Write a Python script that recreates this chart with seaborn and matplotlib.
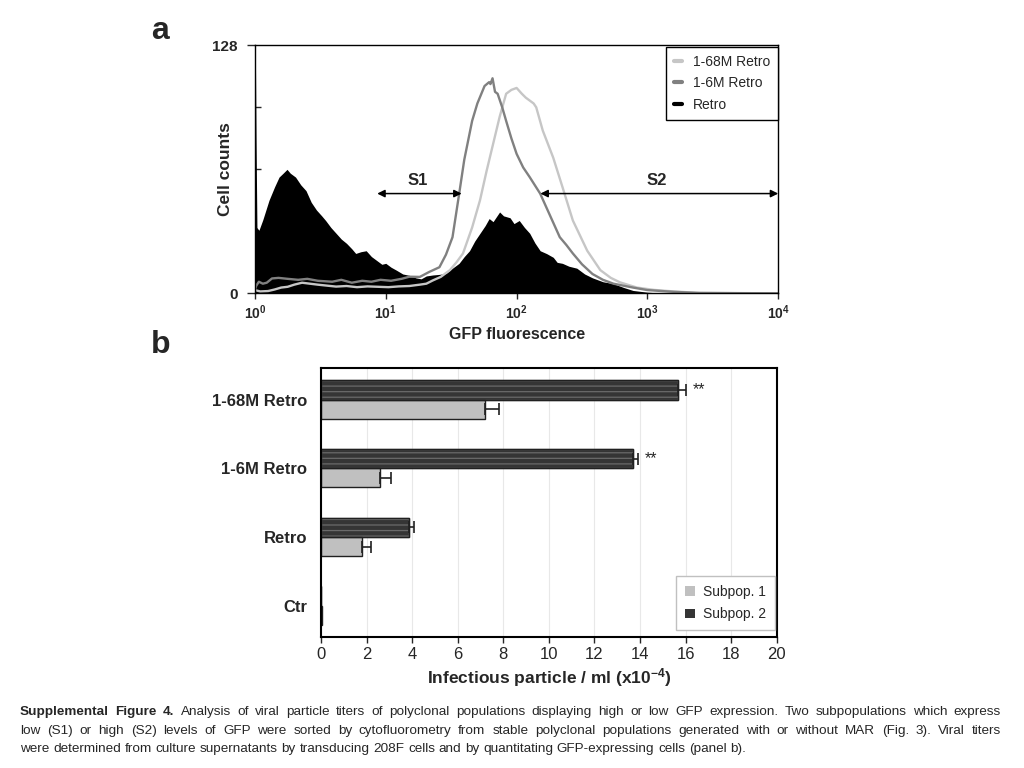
import matplotlib
matplotlib.use("Agg")
import matplotlib.pyplot as plt
import seaborn as sns
import pandas as pd
import numpy as np
from matplotlib.lines import Line2D
from matplotlib.patches import Patch, Rectangle
from matplotlib.ticker import NullLocator, FixedLocator

sns.set_theme(style="white")
plt.rcParams["font.family"] = ["Liberation Sans", "DejaVu Sans"]
plt.rcParams.update({
    "mathtext.fontset": "custom",
    "mathtext.rm": "Liberation Sans",
    "mathtext.bf": "Liberation Sans:bold",
    "mathtext.it": "Liberation Sans:italic",
    "hatch.linewidth": 0.9,
})

# ---- panel a: flow cytometry histograms (x given as log10 of GFP fluorescence)
retro_log = [0.00, 0.004, 0.008, 0.015, 0.03, 0.06, 0.107, 0.15, 0.184, 0.215, 0.245,
             0.27, 0.31, 0.35, 0.39, 0.43, 0.47, 0.51, 0.54, 0.58, 0.62, 0.66, 0.70,
             0.74, 0.77, 0.81, 0.85, 0.89, 0.93, 0.97, 1.00, 1.04, 1.08, 1.13, 1.18,
             1.23, 1.27, 1.31, 1.36, 1.41, 1.46, 1.51, 1.56, 1.60, 1.64, 1.68, 1.72,
             1.76, 1.79, 1.82, 1.85, 1.87, 1.90, 1.95, 1.98, 2.02, 2.06, 2.10, 2.14,
             2.18, 2.23, 2.28, 2.31, 2.35, 2.40, 2.46, 2.52, 2.58, 2.66, 2.74, 2.82,
             2.89, 3.00, 3.10, 4.00]
retro_counts = [127, 116, 80, 34, 32.5, 38, 48, 55, 60, 62, 64,
                62, 60, 56, 53, 47, 43, 40, 37.6, 34, 31, 28, 25.8,
                23, 20.6, 21.5, 22, 19, 17, 15, 15.5, 13.5, 12, 10, 9.3,
                8, 7.5, 9, 9.5, 9.8, 10.3, 13, 15.5, 19, 22, 27, 31,
                35, 38.6, 37, 40, 42, 40, 39, 36, 37.6, 34, 31, 26,
                22, 20.5, 18.6, 16, 15.5, 14, 13, 10, 8, 6, 5, 3,
                1.5, 0.6, 0.2, 0]

m16_log = [0.00, 0.01, 0.03, 0.06, 0.09, 0.13, 0.18, 0.25, 0.33, 0.40, 0.48, 0.59,
           0.66, 0.74, 0.82, 0.89, 0.96, 1.04, 1.12, 1.18, 1.26, 1.33, 1.41, 1.46,
           1.51, 1.56, 1.60, 1.63, 1.66, 1.70, 1.755, 1.79, 1.80, 1.816, 1.835, 1.855,
           1.89, 1.92, 1.96, 2.00, 2.05, 2.10, 2.18, 2.25, 2.33, 2.38, 2.43, 2.50,
           2.58, 2.66, 2.74, 2.89, 3.00, 3.20, 3.40, 4.00]
m16_counts = [2, 4, 6, 5, 5.5, 7.7, 8, 7.5, 7, 7.5, 6.5, 6,
              7, 5.5, 6.5, 6, 7, 6.5, 7.5, 8.6, 8.5, 11, 13.5, 20,
              29, 51, 69, 79, 89, 98, 107, 109, 108, 111, 104, 103,
              96, 89, 80, 72, 65, 60, 51.5, 41, 29, 25, 20.6, 15,
              10, 7, 5, 3, 1.7, 0.8, 0.2, 0]

m168_log = [0.00, 0.04, 0.10, 0.15, 0.20, 0.25, 0.30, 0.36, 0.42, 0.48, 0.55, 0.62,
            0.70, 0.78, 0.86, 0.94, 1.02, 1.10, 1.18, 1.26, 1.31, 1.36, 1.42, 1.49,
            1.54, 1.59, 1.66, 1.72, 1.77, 1.82, 1.87, 1.92, 1.96, 2.00, 2.04, 2.07,
            2.10, 2.13, 2.15, 2.20, 2.28, 2.35, 2.43, 2.54, 2.64, 2.72, 2.79, 2.92,
            3.05, 3.20, 3.38, 4.00]
m168_counts = [1.7, 1, 1.2, 2, 3, 3.4, 4.5, 5.5, 5, 4.5, 4, 3.5,
               3.8, 3.2, 3.6, 3.4, 3.2, 3.6, 3.8, 4.5, 5, 6.7, 8.5, 12,
               16, 20.6, 34, 48, 63, 77, 91, 103, 105, 106, 103, 101,
               99.5, 98, 96, 84, 70, 55, 37.6, 22, 12, 8, 5.7, 3,
               1.8, 1, 0.3, 0]

# ---- panel b: viral titers
lines_b = ["1-68M Retro", "1-6M Retro", "Retro", "Ctr"]
sub1 = [7.2, 2.6, 1.8, 0.05]
sub1_err = [0.6, 0.45, 0.4, 0.0]
sub2 = [15.65, 13.7, 3.85, 0.0]
sub2_err = [0.35, 0.22, 0.22, 0.0]
stars = ["**", "**", "", ""]

fig = plt.figure(figsize=(10.24, 7.68), dpi=100)

# ================= panel a
ax_a = fig.add_axes([0.249, 0.618, 0.511, 0.323])
ax_a.fill_between(10 ** np.array(retro_log), retro_counts, 0, color="black", lw=0)
sns.lineplot(x=10 ** np.array(m168_log), y=m168_counts, color="#c6c6c6", lw=1.7, ax=ax_a)
sns.lineplot(x=10 ** np.array(m16_log), y=m16_counts, color="#808080", lw=1.7, ax=ax_a)
ax_a.set_xscale("log")
ax_a.set_xlim(1, 1e4)
ax_a.set_ylim(0, 128)
ax_a.xaxis.set_minor_locator(NullLocator())
ax_a.set_xticks([1, 10, 100, 1000, 10000])
ax_a.set_xticklabels([r"$\mathbf{10^{%d}}$" % i for i in range(5)], fontsize=10)
ax_a.set_yticks([0, 128])
ax_a.set_yticklabels(["0", "128"], fontsize=11, fontweight="bold")
ax_a.yaxis.set_minor_locator(FixedLocator([32, 64, 96]))
ax_a.tick_params(axis="x", direction="out", length=4, width=1, pad=3, bottom=True)
ax_a.tick_params(axis="y", which="major", direction="out", length=6, width=1, pad=6.5, left=True)
ax_a.tick_params(axis="y", which="minor", direction="in", length=4, width=1, left=True)
for s in ax_a.spines.values():
    s.set_color("black")
    s.set_linewidth(1.0)
ax_a.set_xlabel("GFP fluorescence", fontsize=11.5, fontweight="bold", labelpad=4)
ax_a.set_ylabel("Cell counts", fontsize=12.5, fontweight="bold")
ax_a.yaxis.set_label_coords(-0.042, 0.5)

arrow = dict(arrowstyle="<|-|>", color="black", lw=1.1, mutation_scale=11, shrinkA=0, shrinkB=0)
ax_a.annotate("", xy=(38, 51.5), xytext=(8.6, 51.5), arrowprops=arrow)
ax_a.annotate("", xy=(1e4, 51.5), xytext=(152, 51.5), arrowprops=arrow)
ax_a.text(17.5, 58.5, "S1", fontsize=12, fontweight="bold", ha="center", va="center")
ax_a.text(1180, 58.5, "S2", fontsize=12, fontweight="bold", ha="center", va="center")

leg_a = [Line2D([0], [0], color="#c6c6c6", lw=3),
         Line2D([0], [0], color="#808080", lw=3),
         Line2D([0], [0], color="black", lw=3)]
la = ax_a.legend(leg_a, ["1-68M Retro", "1-6M Retro", "Retro"], loc="upper right",
                 fontsize=10, handlelength=0.6, handletextpad=0.8, borderaxespad=0,
                 fancybox=False, framealpha=1, edgecolor="black", labelspacing=0.55,
                 borderpad=0.55, bbox_to_anchor=(1.0, 0.993))
la.get_frame().set_linewidth(1.0)

# ================= panel b
ax_b = fig.add_axes([0.3135, 0.1706, 0.445, 0.350])
df = pd.DataFrame({
    "line": lines_b * 2,
    "subpop": ["Subpop. 2"] * len(lines_b) + ["Subpop. 1"] * len(lines_b),
    "titer": sub2 + sub1,
})
pal = {"Subpop. 2": "#353535", "Subpop. 1": "#c0c0c0"}
ax_b.grid(axis="x", color="#e8e8e8", lw=0.8)
ax_b.set_axisbelow(True)
sns.barplot(data=df, x="titer", y="line", hue="subpop", hue_order=["Subpop. 2", "Subpop. 1"],
            order=lines_b, palette=pal, orient="h", width=0.56, edgecolor="#202020",
            linewidth=1.0, errorbar=None, legend=False, ax=ax_b)

# striped look of the dark bars, keep a dark outline on top
for bar in ax_b.containers[0]:
    bar.set_hatch("---")
    bar.set_edgecolor("#6a6a6a")
    ax_b.add_patch(Rectangle(bar.get_xy(), bar.get_width(), bar.get_height(),
                             fill=False, edgecolor="#202020", lw=1.0))

errs = {"Subpop. 2": sub2_err, "Subpop. 1": sub1_err}
for cont, name in zip(ax_b.containers, ["Subpop. 2", "Subpop. 1"]):
    for i, bar in enumerate(cont):
        e = errs[name][i]
        yc = bar.get_y() + bar.get_height() / 2
        w = bar.get_width()
        if e > 0:
            ax_b.errorbar(w, yc, xerr=[[0], [e]], fmt="none", ecolor="#202020",
                          elinewidth=1.2, capsize=4, capthick=1.2)
        if name == "Subpop. 2" and stars[i]:
            ax_b.text(w + e + 0.3, yc, stars[i], fontsize=11.5, ha="left", va="center")

ax_b.set_xlim(0, 20)
ax_b.set_xticks(range(0, 21, 2))
ax_b.tick_params(axis="x", direction="out", length=4, width=1, pad=3, bottom=True, labelsize=12)
ax_b.tick_params(axis="y", length=0, pad=10)
for lab in ax_b.get_yticklabels():
    lab.set_fontweight("bold")
    lab.set_fontsize(12)
for s in ax_b.spines.values():
    s.set_color("black")
    s.set_linewidth(1.5)
ax_b.set_ylabel("")
ax_b.set_xlabel(r"Infectious particle / ml (x10$^{\mathbf{-4}}$)", fontsize=12.5,
                fontweight="bold", labelpad=3)

leg_b = [Patch(facecolor="#c0c0c0", edgecolor="none"),
         Patch(facecolor="#353535", edgecolor="none")]
lb = ax_b.legend(leg_b, ["Subpop. 1", "Subpop. 2"], loc="lower right",
                 bbox_to_anchor=(0.997, 0.025), borderaxespad=0, fontsize=10,
                 handlelength=0.7, handleheight=0.7, handletextpad=0.6,
                 fancybox=False, framealpha=1, edgecolor="#c0c0c0", labelspacing=0.6,
                 borderpad=0.65)

# ================= panel letters
fig.text(160 / 1024, 1 - 31 / 768, "a", fontsize=23, fontweight="bold", ha="center", va="center")
fig.text(161 / 1024, 1 - 345 / 768, "b", fontsize=23, fontweight="bold", ha="center", va="center")

# ================= caption (justified)
caption_lines = [
    [("Supplemental", "bold"), ("Figure", "bold"), ("4.", "bold")]
    + [(w, "normal") for w in "Analysis of viral particle titers of polyclonal populations displaying high or low GFP expression. Two subpopulations which express".split()],
    [(w, "normal") for w in "low (S1) or high (S2) levels of GFP were sorted by cytofluorometry from stable polyclonal populations generated with or without MAR (Fig. 3). Viral titers".split()],
    [(w, "normal") for w in "were determined from culture supernatants by transducing 208F cells and by quantitating GFP-expressing cells (panel b).".split()],
]
cap_y = [1 - 712 / 768, 1 - 731 / 768, 1 - 749 / 768]
justify = [True, True, False]
x0, x1 = 20 / 1024, 1001 / 1024
cap_size = 9.7

all_texts = []
for words, y in zip(caption_lines, cap_y):
    all_texts.append([fig.text(0, y, w, fontsize=cap_size, fontweight=wt, ha="left", va="center")
                      for w, wt in words])
fig.canvas.draw()
rend = fig.canvas.get_renderer()
for texts, just in zip(all_texts, justify):
    widths = [t.get_window_extent(rend).width / fig.bbox.width for t in texts]
    if just:
        gap = (x1 - x0 - sum(widths)) / (len(texts) - 1)
    else:
        gap = 0.278 * cap_size * 100 / 72 / 1024
    x = x0
    for t, w in zip(texts, widths):
        t.set_x(x)
        x += w + gap

fig.savefig("out.png", dpi=100)
